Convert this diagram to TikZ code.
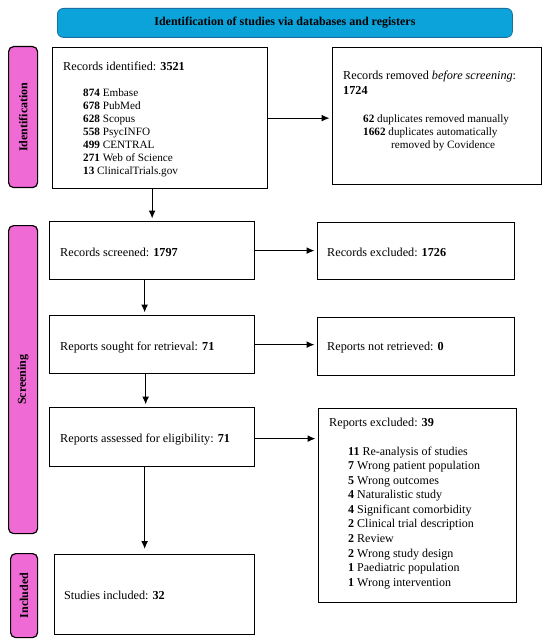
\documentclass[tikz,border=0pt]{standalone}
\usepackage{fontspec}
\setmainfont{Liberation Serif}
\usetikzlibrary{arrows.meta}
\definecolor{bannerfill}{HTML}{0CA2DA}
\definecolor{bannerline}{HTML}{17709F}
\definecolor{phasefill}{HTML}{F06AD6}
\tikzset{
  box/.style={draw=black, line width=1.3pt, fill=white, inner sep=0pt, anchor=north west},
  phase/.style={draw=black, line width=1.2pt, fill=phasefill, rounded corners=5pt, inner sep=0pt, anchor=north west},
  phasetext/.style={rotate=90, font=\fontsize{12}{14}\selectfont\bfseries, inner sep=0pt},
  txt/.style={anchor=base west, inner sep=0pt, font=\fontsize{12.2}{14.5}\selectfont},
  smalllist/.style={anchor=north west, inner sep=0pt, align=left, font=\fontsize{11.2}{12.9}\selectfont},
  biglist/.style={anchor=north west, inner sep=0pt, align=left, font=\fontsize{12}{14.55}\selectfont},
  arr/.style={line width=1.2pt, -{Latex[length=8pt,width=7pt]}, shorten >=2.5pt},
}
\begin{document}
\begin{tikzpicture}[x=1pt,y=-1pt]
\useasboundingbox (0,0) rectangle (550,644);
% banner
\node[draw=bannerline, line width=0.8pt, fill=bannerfill, rounded corners=6pt, minimum width=455pt, minimum height=29pt, inner sep=0pt, anchor=north west] (banner) at (57,8) {};
\node[font=\fontsize{12}{14}\selectfont\bfseries, inner sep=0pt] (bannertxt) at (banner.center) {Identification of studies via databases and registers};
% phase labels
\node[phase, minimum width=29pt, minimum height=141pt] (pid) at (8,46) {};
\node[phasetext] (pidt) at (pid.center) {Identification};
\node[phase, minimum width=29pt, minimum height=308pt] (pscr) at (8,225) {};
\node[phasetext] (pscrt) at (pscr.center) {Screening};
\node[phase, minimum width=27pt, minimum height=84pt] (pinc) at (10,553) {};
\node[phasetext] (pinct) at (pinc.center) {Included};
% boxes
\node[box, minimum width=215pt, minimum height=141pt] (b1) at (52,47) {};
\node[box, minimum width=209pt, minimum height=137pt] (b2) at (332,47) {};
\node[box, minimum width=205pt, minimum height=58pt] (b3) at (49,221) {};
\node[box, minimum width=197pt, minimum height=57pt] (b3r) at (317,222) {};
\node[box, minimum width=205pt, minimum height=58pt] (b4) at (49,315) {};
\node[box, minimum width=197pt, minimum height=58pt] (b4r) at (317,317) {};
\node[box, minimum width=205pt, minimum height=59pt] (b5) at (49,407) {};
\node[box, minimum width=198pt, minimum height=194pt] (b5r) at (318,408) {};
\node[box, minimum width=200pt, minimum height=80pt] (b6) at (54,554) {};
% texts
\node[txt] (t1) at (63,71) {Records identified: \textbf{3521}};
\node[smalllist] (l1) at (83,89) {\textbf{874} Embase\\\textbf{678} PubMed\\\textbf{628} Scopus\\\textbf{558} PsycINFO\\\textbf{499} CENTRAL\\\textbf{271} Web of Science\\\textbf{13} ClinicalTrials.gov};
\node[txt] (t2) at (343,80) {Records removed \textit{before screening}:};
\node[txt] (t2b) at (343,95) {\textbf{1724}};
\node[smalllist] (l2) at (363,115) {\textbf{62} duplicates removed manually\\\textbf{1662} duplicates automatically\\\hspace*{28pt}removed by Covidence};
\node[txt] (t3) at (60,256) {Records screened: \textbf{1797}};
\node[txt] (t3r) at (327,256) {Records excluded: \textbf{1726}};
\node[txt] (t4) at (60,350.5) {Reports sought for retrieval: \textbf{71}};
\node[txt] (t4r) at (327,350.5) {Reports not retrieved: \textbf{0}};
\node[txt] (t5) at (60,442) {Reports assessed for eligibility: \textbf{71}};
\node[txt] (t5r) at (329,426) {Reports excluded: \textbf{39}};
\node[biglist] (l5) at (348,446.5) {\textbf{11} Re-analysis of studies\\\textbf{7} Wrong patient population\\\textbf{5} Wrong outcomes\\\textbf{4} Naturalistic study\\\textbf{4} Significant comorbidity\\\textbf{2} Clinical trial description\\\textbf{2} Review\\\textbf{2} Wrong study design\\\textbf{1} Paediatric population\\\textbf{1} Wrong intervention};
\node[txt] (t6) at (64,599) {Studies included: \textbf{32}};
% arrows
\draw[arr] (b1.south -| b3.north) -- (b3.north);
\draw[arr] (b1.east) -- (b1.east -| b2.west);
\draw[arr] (b3.east) -- (b3.east -| b3r.west);
\draw[arr] (b4.east) -- (b4.east -| b4r.west);
\draw[arr] ([yshift=-1.5pt]b5.east) -- ([yshift=-1.5pt]b5.east -| b5r.west);
\draw[arr] ([xshift=-7.5pt]b3.south) -- ([xshift=-7.5pt]b4.north);
\draw[arr] ([xshift=-6.5pt]b4.south) -- ([xshift=-6.5pt]b5.north);
\draw[arr, shorten >=5pt] ([xshift=-7.5pt]b5.south) -- ([xshift=-7.5pt]b5.south |- b6.north);
\end{tikzpicture}
\end{document}
